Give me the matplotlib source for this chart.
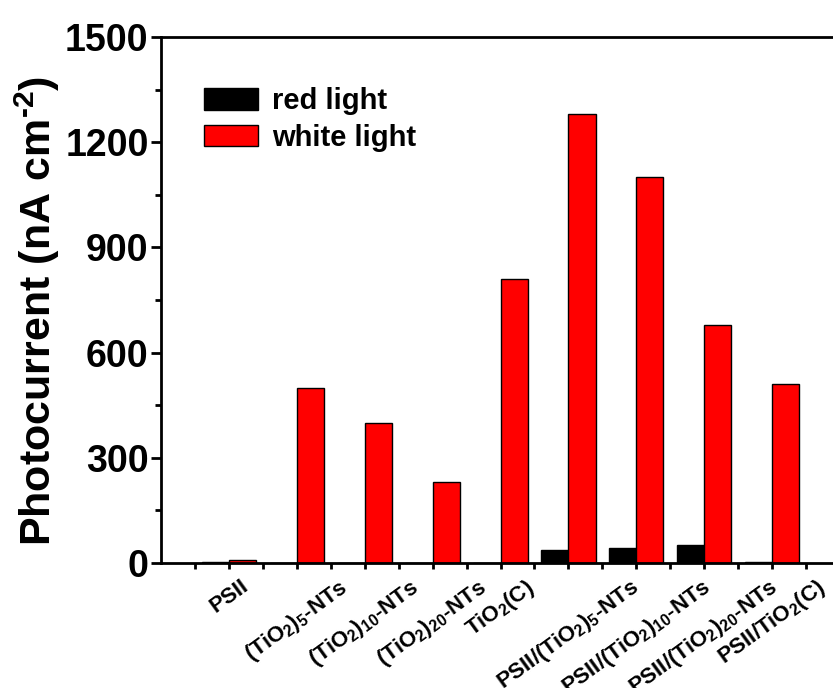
import matplotlib
matplotlib.use("Agg")
import matplotlib.pyplot as plt
from matplotlib.ticker import MultipleLocator, FixedLocator

plt.rcParams['font.family'] = ['Liberation Sans', 'DejaVu Sans']
plt.rcParams['font.weight'] = 'bold'
plt.rcParams['mathtext.fontset'] = 'custom'
plt.rcParams['mathtext.rm'] = 'Liberation Sans:bold'
plt.rcParams['mathtext.it'] = 'Liberation Sans:bold:italic'
plt.rcParams['mathtext.bf'] = 'Liberation Sans:bold'
plt.rcParams['mathtext.default'] = 'rm'

categories = [
    r'PSII',
    r'(TiO$_2$)$_{\mathit{5}}$-NTs',
    r'(TiO$_2$)$_{\mathit{10}}$-NTs',
    r'(TiO$_2$)$_{\mathit{20}}$-NTs',
    r'TiO$_2$(C)',
    r'PSII/(TiO$_2$)$_{\mathit{5}}$-NTs',
    r'PSII/(TiO$_2$)$_{\mathit{10}}$-NTs',
    r'PSII/(TiO$_2$)$_{\mathit{20}}$-NTs',
    r'PSII/TiO$_2$(C)',
]
red_light = [4, 0, 0, 0, 0, 37, 42, 51, 3]
white_light = [9, 500, 400, 230, 810, 1280, 1100, 680, 510]
yticks = [0, 300, 600, 900, 1200, 1500]

fig = plt.figure(figsize=(8.33, 6.88), dpi=100)
ax = fig.add_axes([161/833, 1-563/688, (840-161)/833, (563-37)/688])

x = list(range(1, len(categories) + 1))
w = 0.4
ax.bar([i - w/2 for i in x], red_light, width=w, color='black', edgecolor='black',
       linewidth=1, label='red light')
ax.bar([i + w/2 for i in x], white_light, width=w, color='#ff0000', edgecolor='black',
       linewidth=1, label='white light')

ax.set_xlim(0, 10)
ax.set_ylim(0, 1500)
ax.set_yticks(yticks)
ax.set_yticklabels([str(v) for v in yticks], fontsize=27, fontweight='bold')
ax.yaxis.set_minor_locator(MultipleLocator(150))
ax.set_xticks(x)
ax.set_xticklabels(categories, rotation=36, ha='center', fontsize=16, fontweight='bold')
ax.xaxis.set_minor_locator(FixedLocator([i + 0.5 for i in range(0, 10)]))

for s in ax.spines.values():
    s.set_linewidth(2.0)
ax.tick_params(axis='y', which='major', direction='out', length=7, width=2, pad=2)
ax.tick_params(axis='y', which='minor', direction='out', length=4, width=2)
ax.tick_params(axis='x', which='both', direction='out', length=4, width=2, pad=5)
ax.tick_params(top=False, right=False, which='both')

ax.set_ylabel(r'Photocurrent (nA cm$^{\text{-2}}$)', fontsize=31, fontweight='bold')
ax.yaxis.set_label_coords(-0.146, 0.479)

leg = ax.legend(loc='upper left', bbox_to_anchor=(0.046, 0.927), frameon=False,
                fontsize=21, handlelength=1.85, handleheight=0.75, handletextpad=0.5,
                labelspacing=0.3, borderaxespad=0)
for t in leg.get_texts():
    t.set_fontweight('bold')

fig.savefig('out.png', dpi=100)
